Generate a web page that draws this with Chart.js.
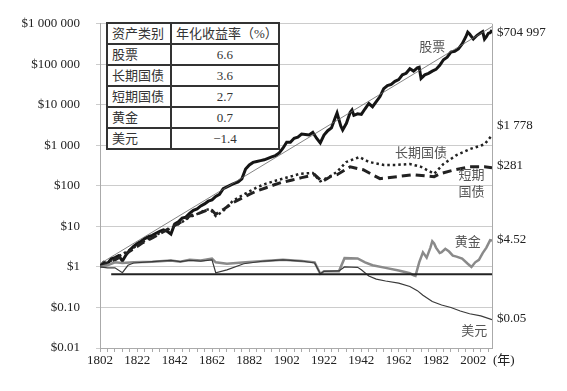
<!DOCTYPE html>
<html>
<head>
<meta charset="utf-8">
<script src="https://cdn.jsdelivr.net/npm/chart.js@4.4.1/dist/chart.umd.min.js"></script>
<style>
  html, body { margin: 0; padding: 0; background: #fff; }
  #wrap { position: relative; width: 567px; height: 391px; }
  #chart { position: absolute; left: 0; top: 0; }
  #tbl {
    position: absolute; left: 106px; top: 22px;
    border-collapse: collapse; table-layout: fixed; background: #fff;
    font-family: "Liberation Serif", "Noto Sans CJK SC", serif; font-size: 13px; color: #333;
  }
  #tbl td { border: 2px solid #333; height: 19px; padding: 0 0 0 4px; line-height: 19px; white-space: nowrap; }
  #tbl td.num { text-align: center; padding: 0; }
</style>
</head>
<body>
<div id="wrap">
  <canvas id="chart" width="567" height="391"></canvas>
  <table id="tbl"><colgroup><col style="width:64px"><col style="width:99px"></colgroup><tbody></tbody></table>
</div>
<script>
// 表
const assetNames = ["股票", "长期国债", "短期国债", "黄金", "美元"];
const annualReturns = ["6.6", "3.6", "2.7", "0.7", "\u22121.4"];
const tableHeader = ["资产类别", "年化收益率（%）"];

// 轴
const yearLabels = [1802, 1822, 1842, 1862, 1882, 1902, 1922, 1942, 1962, 1982, 2002];
const yTickValues = [0.01, 0.1, 1, 10, 100, 1000, 10000, 100000, 1000000];

// 股票
const stockYears = [1802,1804,1806,1808,1810,1812,1814,1816,1818,1820,1822,1824,1826,1828,1830,1832,1834,1836,1838,1840,1842,1844,1846,1848,1850,1852,1854,1856,1858,1860,1862,1864,1866,1868,1870,1873,1876,1878,1880,1882,1884,1886,1888,1890,1892,1894,1896,1898,1900,1902,1904,1906,1908,1910,1912,1914,1916,1918,1920,1922,1924,1926,1928,1929,1931,1932,1934,1936,1937,1938,1940,1942,1944,1946,1948,1950,1952,1954,1956,1958,1960,1962,1964,1966,1968,1970,1972,1973,1974,1976,1978,1980,1982,1984,1986,1988,1990,1992,1994,1996,1998,1999,2000,2002,2004,2006,2007,2008,2009,2010,2011,2012];
const stockValues = [1.0,1.3,1.2,1.6,1.7,1.9,1.4,2.0,2.6,3.2,3.8,4.3,5.0,5.6,6.0,6.8,7.5,8.2,7.6,6.5,11.5,13,16,17,21,25,27,32,36,42,45,55,62,85,95,110,125,150,260,330,380,400,420,440,480,520,560,650,850,1200,1200,1500,1600,1900,1850,1800,2100,1500,1150,1800,2300,2700,4800,6300,3000,2400,3500,6500,7500,5500,6000,5800,8000,10800,9000,12000,16000,25000,30000,32000,38000,42000,55000,60000,78000,68000,82000,85000,45000,55000,60000,68000,75000,95000,130000,150000,200000,210000,240000,320000,480000,620000,560000,420000,520000,600000,640000,420000,480000,580000,600000,704997];

// 股票趋势线
const trendYears = [1802, 2012];
const trendValues = [1.2, 850000];

// 长期国债
const bondYears = [1802,1806,1810,1815,1820,1825,1830,1835,1840,1845,1850,1855,1858,1861,1864,1868,1873,1878,1882,1886,1891,1895,1900,1905,1909,1913,1916,1920,1925,1929,1934,1941,1946,1954,1961,1968,1974,1981,1986,1993,2000,2008,2012];
const bondValues = [1.0,1.3,1.6,2.2,3.0,4.2,5.5,7.2,9,12,17,21,25,27,18,24,42,58,73,92,114,130,151,175,199,205,209,130,169,223,390,515,390,330,330,347,295,199,347,575,805,1060,1778];

// 短期国债
const billYears = [1802,1806,1810,1815,1820,1825,1830,1835,1840,1845,1850,1855,1860,1862,1864,1868,1873,1878,1882,1886,1891,1895,1899,1905,1910,1917,1921,1926,1929,1936,1943,1952,1961,1970,1981,1984,1992,2000,2008,2012];
const billValues = [1.0,1.25,1.5,2.0,2.8,4.0,5.2,7.0,9.5,12.5,18,21,26,25,20,26,38,50,62,75,90,105,121,140,160,189,128,175,189,295,250,151,169,189,169,199,250,295,295,281];

// 黄金
const goldYears = [1802,1806,1810,1814,1820,1830,1840,1845,1850,1856,1862,1864,1870,1880,1890,1900,1910,1917,1920,1922,1930,1933,1940,1944,1948,1955,1962,1968,1970,1971,1973,1975,1977,1979,1980,1981,1982,1984,1985,1987,1989,1991,1993,1996,1999,2001,2003,2005,2007,2009,2011,2012];
const goldValues = [1.0,1.1,1.3,1.25,1.3,1.35,1.45,1.35,1.5,1.45,1.6,1.3,1.2,1.3,1.4,1.5,1.4,1.3,0.68,0.78,0.78,1.65,1.62,1.3,1.1,0.95,0.82,0.7,0.62,0.6,1.3,2.3,1.7,3.0,4.3,3.8,3.0,2.2,2.3,2.8,2.4,1.9,1.8,1.6,1.2,1.0,1.3,1.5,2.2,3.0,4.6,4.52];

// 美元
const dollarYears = [1802,1806,1810,1814,1817,1820,1830,1840,1845,1850,1856,1862,1864,1870,1879,1890,1900,1910,1917,1920,1922,1930,1933,1940,1942,1946,1950,1955,1962,1968,1972,1975,1980,1985,1990,1995,2000,2006,2012];
const dollarValues = [1.0,0.95,0.95,0.72,1.1,1.25,1.35,1.45,1.35,1.45,1.4,1.5,0.72,0.85,1.2,1.4,1.5,1.4,1.25,0.68,0.78,0.8,1.0,0.98,0.85,0.6,0.5,0.45,0.4,0.33,0.26,0.2,0.14,0.115,0.1,0.082,0.07,0.062,0.05];

// 水平线
const flatYears = [1808, 2012];
const flatValues = [0.66, 0.66];

// 图内文字 [文字, 年, 值]
const seriesNotes = [
  ["股票", 1980, 263000],
  ["长期国债", 1974, 644],
  ["短期", 2001, 179],
  ["国债", 2001, 69],
  ["黄金", 1999, 4.03],
  ["美元", 2002.5, 0.0252]
];
// 右侧终值 [值, 垂直偏移]
const endValues = [[704997, 3], [1778, -10], [281, -2], [4.52, -1], [0.05, -1]];

const FONT = '"Liberation Serif", "Noto Sans CJK SC", serif';

function money(v) {
  if (v < 1) return "$" + v.toFixed(2);
  if (v < 10 && v % 1 !== 0) return "$" + v.toFixed(2);
  return "$" + String(Math.round(v)).replace(/\B(?=(\d{3})+(?!\d))/g, " ");
}

function pts(xs, ys) {
  return xs.map((x, i) => ({ x: x, y: ys[i] }));
}

// table
const tb = document.querySelector("#tbl tbody");
let rows = `<tr><td>${tableHeader[0]}</td><td>${tableHeader[1]}</td></tr>`;
assetNames.forEach((n, i) => {
  rows += `<tr><td>${n}</td><td class="num">${annualReturns[i]}</td></tr>`;
});
tb.innerHTML = rows;

const xTicks = [];
for (let y = 1802; y <= 2012; y += 4) xTicks.push(y);

const extras = {
  id: "extras",
  afterDatasetsDraw(chart) {
    const ctx = chart.ctx, a = chart.chartArea;
    const xs = chart.scales.x, ys = chart.scales.y;
    ctx.save();
    ctx.strokeStyle = "#aaa";
    ctx.lineWidth = 1;
    ctx.beginPath();
    ctx.moveTo(a.right + 0.5, a.top);
    ctx.lineTo(a.right + 0.5, a.bottom);
    ctx.stroke();

    ctx.font = "13px " + FONT;
    ctx.textBaseline = "middle";
    ctx.fillStyle = "#555";
    ctx.textAlign = "center";
    seriesNotes.forEach(n => {
      ctx.fillText(n[0], xs.getPixelForValue(n[1]), ys.getPixelForValue(n[2]));
    });

    ctx.fillStyle = "#222";
    ctx.textAlign = "left";
    endValues.forEach(e => {
      ctx.fillText(money(e[0]), a.right + 5, ys.getPixelForValue(e[0]) + e[1]);
    });
    ctx.fillText("(年)", a.right + 1, a.bottom + 13);
    ctx.restore();
  }
};

new Chart(document.getElementById("chart"), {
  type: "line",
  data: {
    datasets: [
      { data: pts(flatYears, flatValues), borderColor: "#222", borderWidth: 2 },
      { data: pts(dollarYears, dollarValues), borderColor: "#3a3a3a", borderWidth: 1.2 },
      { data: pts(goldYears, goldValues), borderColor: "#8a8a8a", borderWidth: 2.5 },
      { data: pts(billYears, billValues), borderColor: "#222", borderWidth: 3, borderDash: [9, 5] },
      { data: pts(bondYears, bondValues), borderColor: "#222", borderWidth: 2.5, borderDash: [2.5, 3] },
      { data: pts(trendYears, trendValues), borderColor: "#666", borderWidth: 0.8 },
      { data: pts(stockYears, stockValues), borderColor: "#151515", borderWidth: 3 }
    ]
  },
  options: {
    responsive: false,
    animation: false,
    events: [],
    elements: { point: { radius: 0 }, line: { tension: 0, fill: false } },
    layout: { padding: { left: 0, right: 75, top: 19, bottom: 0 } },
    plugins: { legend: { display: false }, tooltip: { enabled: false } },
    scales: {
      x: {
        type: "linear", min: 1802, max: 2012,
        afterBuildTicks: s => { s.ticks = xTicks.map(v => ({ value: v })); },
        afterFit: s => { s.height = 43; },
        grid: { drawOnChartArea: false, tickLength: 4, color: "#aaa" },
        border: { color: "#aaa" },
        ticks: {
          autoSkip: false, maxRotation: 0, padding: 1, color: "#222",
          font: { family: FONT, size: 13 },
          callback: v => yearLabels.includes(v) ? String(v) : ""
        }
      },
      y: {
        type: "logarithmic", min: 0.01, max: 1000000,
        afterBuildTicks: s => { s.ticks = yTickValues.map(v => ({ value: v })); },
        afterFit: s => { s.width = 100; },
        grid: { color: "#ccc", tickLength: 4 },
        border: { color: "#aaa" },
        ticks: {
          padding: 16, color: "#222",
          font: { family: FONT, size: 13 },
          callback: v => money(v)
        }
      }
    }
  },
  plugins: [extras]
});
</script>
</body>
</html>
